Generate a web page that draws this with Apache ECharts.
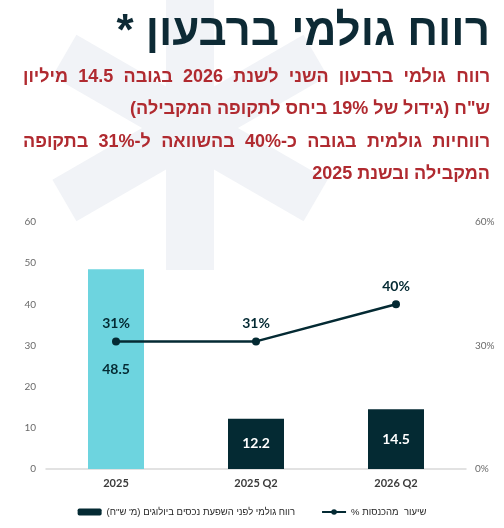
<!DOCTYPE html>
<html>
<head>
<meta charset="utf-8">
<script src="https://cdn.jsdelivr.net/npm/echarts@6/dist/echarts.min.js"></script>
<style>
  html, body { margin: 0; padding: 0; background: #fff; }
  #main { width: 504px; height: 528px; }
</style>
</head>
<body>
<div id="main"></div>
<script>
// data
const categories = ['2025', '2025 Q2', '2026 Q2'];
const grossProfit = [48.5, 12.2, 14.5];   // מ' ש"ח
const grossMargin = [31, 31, 40];         // %
const leftAxisTicks = [0, 60, 10];        // min, max, interval
const rightAxisTicks = [0, 60, 30];

const barName = 'רווח גולמי לפני השפעת נכסים ביולוגים (מ\' ש"ח)';
const lineName = 'שיעור  מהכנסות %';
const titleText = 'רווח גולמי ברבעון *';
const subLines = [
  'רווח גולמי ברבעון השני לשנת 2026 בגובה 14.5 מיליון',
  'ש"ח (גידול של 19% ביחס לתקופה המקבילה)',
  'רווחיות גולמית בגובה כ-40% בהשוואה ל-31% בתקופה',
  'המקבילה ובשנת 2025'
];

const DARK = '#042a33';
const CYAN = '#6dd4df';
const RED = '#b02a30';
const RLM = '\u200F';
function rtl(s) { return RLM + s + RLM; }

const measureCtx = document.createElement('canvas').getContext('2d');

// spread words of a line between left and right (justified, right to left)
function justified(text, y, left, right, size) {
  const fam = '"Liberation Sans", Arial, sans-serif';
  measureCtx.font = 'bold ' + size + 'px ' + fam;
  const words = text.split(' ');
  const widths = words.map(w => measureCtx.measureText(rtl(w)).width);
  const total = widths.reduce((a, b) => a + b, 0);
  const gap = words.length > 1 ? (right - left - total) / (words.length - 1) : 0;
  let x = right;
  return words.map((w, i) => {
    const el = textEl(rtl(w), x, y, size, RED);
    x -= widths[i] + gap;
    return el;
  });
}

function textEl(t, x, y, size, color) {
  return {
    type: 'text', x: x, y: y, z: 100,
    style: {
      text: t, fill: color,
      fontSize: size, fontWeight: 'bold',
      fontFamily: '"Liberation Sans", Arial, sans-serif',
      align: 'right', textAlign: 'right',
      verticalAlign: 'middle', textVerticalAlign: 'middle'
    }
  };
}

// watermark asterisk
const wmColor = '#f1f3f7';
const watermark = [
  { type: 'rect', z: -10, x: 166, y: -20, shape: { x: 0, y: 0, width: 48, height: 290 }, style: { fill: wmColor } },
  { type: 'rect', z: -10, x: 190, y: 128, rotation: Math.PI / 6, shape: { x: -145, y: -24, width: 290, height: 48 }, style: { fill: wmColor } },
  { type: 'rect', z: -10, x: 190, y: 128, rotation: -Math.PI / 6, shape: { x: -145, y: -24, width: 290, height: 48 }, style: { fill: wmColor } }
];

const texts = [textEl(rtl(titleText), 490, 33, 44, '#0d2a35')]
  .concat(justified(subLines[0], 77, 23, 490, 18))
  .concat([textEl(rtl(subLines[1]), 490, 109, 18, RED)])
  .concat(justified(subLines[2], 142, 23, 490, 18))
  .concat([textEl(rtl(subLines[3]), 490, 174, 18, RED)]);

const chart = echarts.init(document.getElementById('main'));

const option = {
  animation: false,
  backgroundColor: '#fff',
  graphic: { elements: watermark.concat(texts) },
  grid: { left: 46, right: 38, top: 222, bottom: 59, containLabel: false },
  legend: {
    top: 502,
    left: 'center',
    itemWidth: 24,
    itemHeight: 7,
    itemGap: 26,
    data: [rtl(barName), rtl(lineName)],
    textStyle: { fontSize: 9.5, color: '#262626', fontFamily: '"Liberation Sans", Arial, sans-serif' }
  },
  xAxis: {
    type: 'category',
    data: categories,
    axisTick: { show: false },
    axisLine: { lineStyle: { color: '#d9d9d9', width: 1.5 } },
    axisLabel: { color: '#3b3b3b', fontSize: 11, fontFamily: 'Lato', fontWeight: 'bold', margin: 9 }
  },
  yAxis: [
    {
      type: 'value',
      min: leftAxisTicks[0], max: leftAxisTicks[1], interval: leftAxisTicks[2],
      splitLine: { show: false },
      axisLine: { show: false },
      axisTick: { show: false },
      axisLabel: { color: '#6a6a6a', fontSize: 10, fontFamily: 'Lato', margin: 10 }
    },
    {
      type: 'value',
      min: rightAxisTicks[0], max: rightAxisTicks[1], interval: rightAxisTicks[2],
      splitLine: { show: false },
      axisLine: { show: false },
      axisTick: { show: false },
      axisLabel: { color: '#6a6a6a', fontSize: 10, fontFamily: 'Lato', margin: 9, formatter: '{value}%' }
    }
  ],
  series: [
    {
      name: rtl(barName),
      type: 'bar',
      barWidth: 56,
      data: grossProfit.map((v, i) => ({
        value: v,
        itemStyle: { color: i === 0 ? CYAN : DARK },
        label: { color: i === 0 ? DARK : '#fff' }
      })),
      itemStyle: { color: DARK },
      label: {
        show: true, position: 'inside',
        fontSize: 14, fontWeight: 'bold', fontFamily: 'Lato'
      }
    },
    {
      name: rtl(lineName),
      type: 'line',
      yAxisIndex: 1,
      data: grossMargin,
      symbol: 'circle',
      symbolSize: 8,
      color: DARK,
      lineStyle: { color: DARK, width: 2.5 },
      itemStyle: { color: DARK },
      label: {
        show: true, position: 'top', distance: 7,
        formatter: '{c}%', color: DARK,
        fontSize: 14, fontWeight: 'bold', fontFamily: 'Lato'
      }
    }
  ]
};

chart.setOption(option);
</script>
</body>
</html>
